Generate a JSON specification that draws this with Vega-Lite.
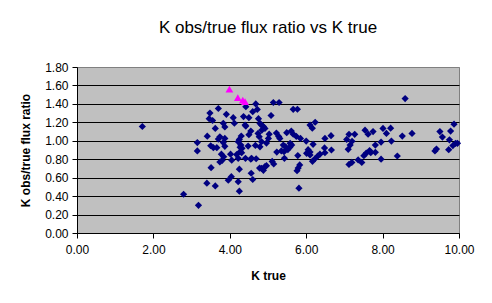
{
  "$schema": "https://vega.github.io/schema/vega-lite/v6.json",
  "autosize": {"type": "none"},
  "padding": {"left": 77, "top": 67, "right": 33, "bottom": 70},
  "width": 382,
  "height": 166,
  "background": "white",
  "title": {"text": "K obs/true flux ratio vs K true", "font": "Liberation Sans", "fontSize": 17, "fontWeight": "normal", "color": "black", "anchor": "middle", "baseline": "alphabetic", "offset": 11},
  "datasets": {
    "main": [
      {"k":1.71,"r":1.155},{"k":2.79,"r":0.42},{"k":3.18,"r":0.30},{"k":3.15,"r":0.98},{"k":3.15,"r":0.89},{"k":3.40,"r":0.54},{"k":3.41,"r":1.05},{"k":3.46,"r":1.24},{"k":3.48,"r":1.30},{"k":3.50,"r":0.946},{"k":3.51,"r":0.708},{"k":3.55,"r":1.22},
      {"k":3.57,"r":0.925},{"k":3.62,"r":0.51},{"k":3.62,"r":1.134},{"k":3.66,"r":0.925},{"k":3.70,"r":1.35},{"k":3.70,"r":1.018},{"k":3.74,"r":1.043},{"k":3.74,"r":0.77},{"k":3.78,"r":0.855},{"k":3.84,"r":0.827},{"k":3.80,"r":0.788},{"k":3.83,"r":1.19},{"k":3.87,"r":1.15},{"k":3.91,"r":1.287},{"k":3.83,"r":0.98},{"k":3.87,"r":0.94},{"k":3.87,"r":1.026},{"k":3.96,"r":0.572},
      {"k":4.02,"r":0.855},{"k":4.04,"r":0.611},{"k":4.05,"r":0.79},{"k":4.09,"r":1.25},{"k":4.12,"r":1.19},{"k":4.18,"r":0.85},{"k":4.22,"r":0.81},{"k":4.22,"r":0.557},{"k":4.22,"r":0.99},{"k":4.25,"r":0.453},{"k":4.25,"r":0.692},{"k":4.25,"r":1.015},{"k":4.27,"r":0.881},{"k":4.27,"r":0.929},{"k":4.30,"r":1.052},{"k":4.29,"r":0.953},{"k":4.31,"r":0.87},{"k":4.32,"r":0.918},{"k":4.36,"r":1.263},{"k":4.40,"r":1.17},{"k":4.41,"r":0.81},{"k":4.42,"r":1.37},{"k":4.42,"r":1.16},{"k":4.50,"r":1.25},{"k":4.50,"r":1.066},{"k":4.48,"r":0.943},{"k":4.55,"r":1.105},{"k":4.55,"r":0.80},{"k":4.56,"r":0.648},{"k":4.57,"r":0.81},{"k":4.60,"r":1.316},{"k":4.60,"r":0.58},
      {"k":4.67,"r":0.95},{"k":4.68,"r":1.40},{"k":4.72,"r":1.34},{"k":4.69,"r":0.805},{"k":4.74,"r":1.08},{"k":4.77,"r":1.045},{"k":4.75,"r":1.24},{"k":4.78,"r":0.704},{"k":4.79,"r":1.188},{"k":4.79,"r":0.935},{"k":4.83,"r":1.17},{"k":4.88,"r":1.155},{"k":4.84,"r":1.116},{"k":4.92,"r":1.134},{"k":4.83,"r":0.99},{"k":4.96,"r":0.975},{"k":4.83,"r":0.70},{"k":4.88,"r":0.68},{"k":4.92,"r":0.72},{"k":4.96,"r":0.73},{"k":5.03,"r":1.071},{"k":5.01,"r":1.026},{"k":5.08,"r":1.274},
      {"k":5.11,"r":0.776},{"k":5.15,"r":0.748},{"k":5.14,"r":1.415},{"k":5.22,"r":1.083},{"k":5.23,"r":0.878},{"k":5.28,"r":1.047},{"k":5.29,"r":1.415},{"k":5.31,"r":1.026},{"k":5.35,"r":0.89},{"k":5.42,"r":0.881},{"k":5.40,"r":0.953},{"k":5.43,"r":0.81},{"k":5.46,"r":0.935},{"k":5.49,"r":1.088},{"k":5.52,"r":0.905},{"k":5.58,"r":0.972},{"k":5.57,"r":0.929},{"k":5.61,"r":1.106},{"k":5.62,"r":0.953},{"k":5.66,"r":1.341},{"k":5.66,"r":1.072},{"k":5.74,"r":1.048},{"k":5.77,"r":1.342},{"k":5.78,"r":0.84},{"k":5.76,"r":0.675},{"k":5.79,"r":0.704},{"k":5.83,"r":0.738},{"k":5.81,"r":0.486},{"k":5.85,"r":1.026},{"k":6.00,"r":0.997},
      {"k":6.01,"r":0.864},{"k":6.05,"r":0.904},{"k":6.10,"r":0.878},{"k":6.10,"r":0.846},{"k":6.10,"r":1.17},{"k":6.16,"r":1.137},{"k":6.235,"r":1.201},{"k":6.165,"r":0.777},{"k":6.23,"r":0.805},{"k":6.30,"r":0.833},{"k":6.36,"r":0.855},{"k":6.18,"r":0.961},{"k":6.49,"r":1.026},{"k":6.48,"r":0.922},{"k":6.49,"r":0.87},{"k":6.65,"r":1.055},{"k":6.66,"r":0.9},
      {"k":7.06,"r":1.015},{"k":7.12,"r":1.07},{"k":7.27,"r":1.07},{"k":7.20,"r":0.995},{"k":7.15,"r":0.953},{"k":7.10,"r":0.907},{"k":7.12,"r":0.743},{"k":7.195,"r":0.765},{"k":7.36,"r":0.792},{"k":7.455,"r":0.765},{"k":7.51,"r":0.838},{"k":7.57,"r":0.866},{"k":7.66,"r":0.894},{"k":7.69,"r":0.87},{"k":7.54,"r":1.115},{"k":7.62,"r":1.072},{"k":7.75,"r":1.10},{"k":7.81,"r":0.953},{"k":7.81,"r":0.875},{"k":7.96,"r":0.986},{"k":7.96,"r":0.80},
      {"k":8.01,"r":1.134},{"k":8.10,"r":1.08},{"k":8.21,"r":1.137},{"k":8.23,"r":0.997},{"k":8.385,"r":0.835},{"k":8.515,"r":1.051},{"k":8.59,"r":1.458},{"k":8.77,"r":1.08},{"k":9.37,"r":0.89},{"k":9.41,"r":0.91},{"k":9.50,"r":1.10},{"k":9.565,"r":1.04},{"k":9.78,"r":1.105},{"k":9.75,"r":1.01},{"k":9.73,"r":0.904},{"k":9.87,"r":1.18},{"k":9.84,"r":0.948},{"k":9.91,"r":0.972},{"k":9.96,"r":0.972}
    ],
    "flag": [{"k":3.99,"r":1.56},{"k":4.21,"r":1.467},{"k":4.34,"r":1.44},{"k":4.40,"r":1.425}]
  },
  "encoding": {
    "x": {"field": "k", "type": "quantitative", "scale": {"domain": [0, 10], "nice": false},
      "axis": {"values": [0, 2, 4, 6, 8, 10], "format": ".2f", "grid": false, "title": "K true", "labelPadding": 6, "labelFlush": false, "labelOverlap": false, "titleX": 191, "titleY": 46, "titleBaseline": "alphabetic"}},
    "y": {"field": "r", "type": "quantitative", "scale": {"domain": [0, 1.8], "nice": false},
      "axis": {"values": [0, 0.2, 0.4, 0.6, 0.8, 1.0, 1.2, 1.4, 1.6, 1.8], "format": ".2f", "grid": true, "title": "K obs/true flux ratio", "labelPadding": 4, "labelFlush": false, "labelOverlap": false, "titleX": -52, "titleY": 83, "titleAngle": 270, "titleAlign": "center", "titleBaseline": "middle",
        "gridColor": {"condition": {"test": "datum.value >= 1.79", "value": "#808080"}, "value": "#000000"}}}
  },
  "layer": [
    {
      "data": {"name": "main"},
      "mark": {"type": "point", "shape": "diamond", "filled": true, "size": 52, "color": "#000080", "opacity": 1, "strokeWidth": 0}
    },
    {
      "data": {"name": "flag"},
      "mark": {"type": "point", "shape": "triangle-up", "filled": true, "size": 60, "color": "#FF00FF", "opacity": 1, "strokeWidth": 0}
    }
  ],
  "config": {
    "font": "Liberation Sans",
    "view": {"fill": "#C0C0C0", "stroke": "#808080", "strokeWidth": 1},
    "axis": {
      "domainColor": "#000000", "domainWidth": 1, "tickColor": "#000000", "tickSize": 5, "tickWidth": 1,
      "labelFont": "Liberation Sans", "labelFontSize": 12, "labelColor": "#000000",
      "titleFont": "Liberation Sans", "titleFontSize": 12, "titleFontWeight": "bold", "titleColor": "#000000",
      "gridOpacity": 1, "gridWidth": 1
    }
  }
}
